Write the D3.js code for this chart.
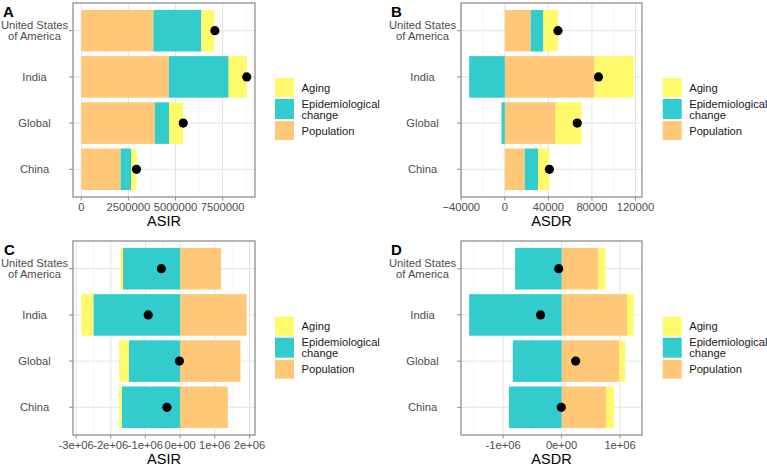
<!DOCTYPE html>
<html><head><meta charset="utf-8">
<script src="https://cdn.jsdelivr.net/npm/d3@7"></script>
<style>body{margin:0;background:#fff}svg{display:block;font-family:"Liberation Sans",Arial,sans-serif}</style>
</head><body>
<script>
// ---- data ----
const categories = ["United States of America", "India", "Global", "China"];
const components = ["Population", "Epidemiological change", "Aging"]; // stacking order from zero
const legendOrder = ["Aging", "Epidemiological change", "Population"];

// Panel A: ASIR (incidence numbers)
const A_population = [3830000, 4650000, 3910000, 2090000];
const A_epi        = [2540000, 3170000, 750000, 550000];
const A_aging      = [700000, 960000, 750000, 290000];
const A_total      = [7090000, 8780000, 5410000, 2930000];
const A_ticks = [0, 2500000, 5000000, 7500000];

// Panel B: ASDR
const B_population = [23800, 82400, 46700, 18300];
const B_epi        = [11600, -32700, -3050, 12200];
const B_aging      = [13400, 36000, 23800, 10400];
const B_total      = [48800, 86000, 66500, 40900];
const B_ticks = [-40000, 0, 40000, 80000, 120000];

// Panel C: ASIR
const C_population = [1180000, 1920000, 1740000, 1375000];
const C_epi        = [-1646000, -2500000, -1480000, -1680000];
const C_aging      = [-87000, -350000, -280000, -80000];
const C_total      = [-540000, -920000, -20000, -380000];
const C_ticks = [-3e6, -2e6, -1e6, 0, 1e6, 2e6];

// Panel D: ASDR
const D_population = [625000, 1120000, 990000, 760000];
const D_epi        = [-795000, -1580000, -835000, -900000];
const D_aging      = [125000, 114000, 97000, 136000];
const D_total      = [-50000, -360000, 240000, -5000];
const D_ticks = [-1e6, 0, 1e6];

const colors = {"Aging": "#FFFA6B", "Epidemiological change": "#33CCCC", "Population": "#FFC878"};

const W = 767, H = 468;
const svg = d3.select("body").append("svg").attr("width", W).attr("height", H);

const fmtPlain = d3.format("d");
const fmtSci = v => v === 0 ? "0e+00" : (v < 0 ? "-" : "") + Math.abs(v / 1e6) + "e+06";

const panels = [
  {tag: "A", title: "ASIR", pop: A_population, epi: A_epi, aging: A_aging, total: A_total, ticks: A_ticks, fmt: fmtPlain, x0: 73, x1: 255, y0: 3, y1: 197, tagX: 3, tagY: 17},
  {tag: "B", title: "ASDR", pop: B_population, epi: B_epi, aging: B_aging, total: B_total, ticks: B_ticks, fmt: fmtPlain, x0: 461, x1: 642, y0: 3, y1: 197, tagX: 391, tagY: 17},
  {tag: "C", title: "ASIR", pop: C_population, epi: C_epi, aging: C_aging, total: C_total, ticks: C_ticks, fmt: fmtSci, x0: 73, x1: 255, y0: 241, y1: 435, tagX: 4, tagY: 255},
  {tag: "D", title: "ASDR", pop: D_population, epi: D_epi, aging: D_aging, total: D_total, ticks: D_ticks, fmt: fmtSci, x0: 461, x1: 642, y0: 241, y1: 435, tagX: 391, tagY: 255}
];

panels.forEach(p => {
  const rows = categories.map((c, i) => ({
    cat: c, "Population": p.pop[i], "Epidemiological change": p.epi[i], "Aging": p.aging[i], total: p.total[i]
  }));
  const series = d3.stack().keys(components).offset(d3.stackOffsetDiverging)(rows);
  let lo = d3.min(series, s => d3.min(s, d => Math.min(d[0], d[1])));
  let hi = d3.max(series, s => d3.max(s, d => Math.max(d[0], d[1])));
  lo = Math.min(lo, d3.min(p.total), 0); hi = Math.max(hi, d3.max(p.total), 0);
  const pad = (hi - lo) * 0.05;
  const x = d3.scaleLinear().domain([lo - pad, hi + pad]).range([p.x0, p.x1]);
  const y = d3.scalePoint().domain(categories).range([p.y0, p.y1]).padding(0.6);
  const step = y.step();
  const bh = step * 0.9;

  const g = svg.append("g");
  // grid
  const step2 = p.ticks[1] - p.ticks[0];
  const minor = [];
  for (let v = p.ticks[0] - step2 / 2; v <= x.domain()[1]; v += step2) if (v >= x.domain()[0]) minor.push(v);
  g.selectAll(".mn").data(minor).join("line").attr("x1", d => x(d)).attr("x2", d => x(d))
    .attr("y1", p.y0).attr("y2", p.y1).attr("stroke", "#f0f0f0").attr("stroke-width", 0.6);
  g.selectAll(".mj").data(p.ticks.filter(t => t >= x.domain()[0] && t <= x.domain()[1])).join("line")
    .attr("x1", d => x(d)).attr("x2", d => x(d)).attr("y1", p.y0).attr("y2", p.y1)
    .attr("stroke", "#e3e3e3").attr("stroke-width", 1);
  g.selectAll(".hg").data(categories).join("line").attr("x1", p.x0).attr("x2", p.x1)
    .attr("y1", d => y(d)).attr("y2", d => y(d)).attr("stroke", "#e3e3e3").attr("stroke-width", 1);

  // bars
  series.forEach(s => {
    g.append("g").selectAll("rect").data(s).join("rect")
      .attr("x", d => x(Math.min(d[0], d[1])))
      .attr("width", d => Math.abs(x(d[1]) - x(d[0])))
      .attr("y", d => y(d.data.cat) - bh / 2)
      .attr("height", bh)
      .attr("fill", colors[s.key]);
  });
  // points
  g.selectAll("circle").data(rows).join("circle")
    .attr("cx", d => x(d.total)).attr("cy", d => y(d.cat)).attr("r", 4.6).attr("fill", "#000");

  // border
  g.append("rect").attr("x", p.x0).attr("y", p.y0).attr("width", p.x1 - p.x0).attr("height", p.y1 - p.y0)
    .attr("fill", "none").attr("stroke", "#8f8f8f").attr("stroke-width", 1.3);

  // x ticks
  g.selectAll(".xt").data(p.ticks).join("line").attr("x1", d => x(d)).attr("x2", d => x(d))
    .attr("y1", p.y1).attr("y2", p.y1 + 3.5).attr("stroke", "#8f8f8f").attr("stroke-width", 1);
  g.selectAll(".xl").data(p.ticks).join("text").attr("x", d => x(d)).attr("y", p.y1 + 13.5)
    .attr("text-anchor", "middle").attr("font-size", 11.2).attr("fill", "#4d4d4d").text(d => p.fmt(d));
  // y ticks
  g.selectAll(".yt").data(categories).join("line").attr("x1", p.x0 - 4).attr("x2", p.x0)
    .attr("y1", d => y(d)).attr("y2", d => y(d)).attr("stroke", "#8f8f8f").attr("stroke-width", 1);
  const yl = g.selectAll(".yl").data(categories).join("text")
    .attr("text-anchor", "middle").attr("font-size", 11.2).attr("fill", "#4d4d4d");
  yl.each(function(d) {
    const t = d3.select(this);
    const lines = d === "United States of America" ? ["United States", "of America"] : [d];
    const lh = 10.7;
    lines.forEach((ln, i) => {
      t.append("tspan").attr("x", p.x0 - 38.5)
        .attr("y", y(d) + 4 + (i - (lines.length - 1) / 2) * lh).text(ln);
    });
  });
  // axis title
  g.append("text").attr("x", (p.x0 + p.x1) / 2).attr("y", p.y1 + 29).attr("text-anchor", "middle")
    .attr("font-size", 14.5).attr("fill", "#000").text(p.title);
  // tag
  g.append("text").attr("x", p.tagX).attr("y", p.tagY).attr("font-size", 15).attr("font-weight", "bold")
    .attr("fill", "#000").text(p.tag);
});

// legends
const legendPos = [{x: 275, y: 78}, {x: 662.7, y: 78}, {x: 275, y: 316.7}, {x: 662.7, y: 316.7}];
const keyH = {"Aging": 19, "Epidemiological change": 20, "Population": 19};
legendPos.forEach(lp => {
  const lg = svg.append("g");
  let yy = lp.y;
  legendOrder.forEach(k => {
    const h = keyH[k];
    lg.append("rect").attr("x", lp.x).attr("y", yy).attr("width", 19).attr("height", h).attr("fill", colors[k]);
    const lines = k === "Epidemiological change" ? ["Epidemiological", "change"] : [k];
    const t = lg.append("text").attr("font-size", 11.2).attr("fill", "#1a1a1a");
    lines.forEach((ln, i) => {
      t.append("tspan").attr("x", lp.x + 26.5)
        .attr("y", yy + h / 2 + 4 + (i - (lines.length - 1) / 2) * 11).text(ln);
    });
    yy += h + 2;
  });
});
</script>
</body></html>
